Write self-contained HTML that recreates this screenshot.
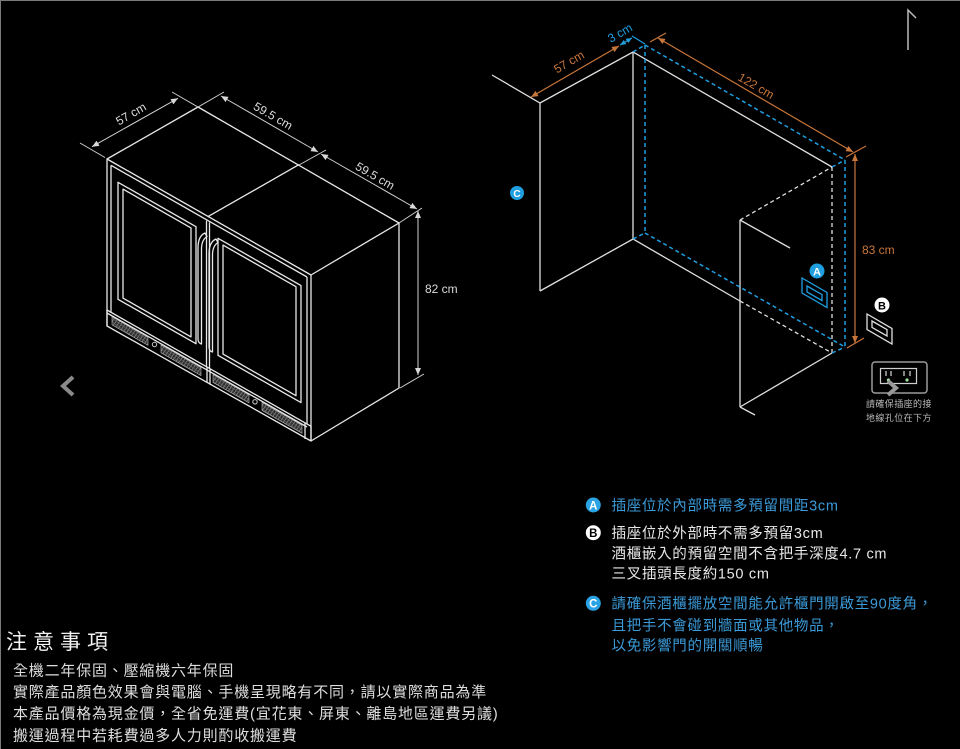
<!DOCTYPE html>
<html lang="zh-Hant-TW"><head><meta charset="utf-8">
<style>
html,body{margin:0;padding:0;background:#000;}
svg{display:block;}
text{font-family:"Liberation Sans","Noto Sans CJK TC",sans-serif;}
</style></head><body>
<svg width="960" height="749" viewBox="0 0 960 749" xmlns="http://www.w3.org/2000/svg" lang="zh-Hant-TW" xml:lang="zh-Hant-TW">
<defs>
<marker id="aw" viewBox="0 0 7 6" refX="7" refY="3" markerWidth="7" markerHeight="6" markerUnits="userSpaceOnUse" orient="auto-start-reverse"><path d="M0,0 L7,3 L0,6z" fill="#d8d8d8"/></marker>
<marker id="ao" viewBox="0 0 7 6" refX="7" refY="3" markerWidth="7" markerHeight="6" markerUnits="userSpaceOnUse" orient="auto-start-reverse"><path d="M0,0 L7,3 L0,6z" fill="#c8763a"/></marker>
<marker id="ab" viewBox="0 0 7 6" refX="7" refY="3" markerWidth="6" markerHeight="5" markerUnits="userSpaceOnUse" orient="auto-start-reverse"><path d="M0,0 L7,3 L0,6z" fill="#1f9fe0"/></marker>
<pattern id="hatch" width="3" height="3" patternUnits="userSpaceOnUse" patternTransform="rotate(35)"><rect width="3" height="3" fill="#2a2a2a"/><line x1="0" y1="0" x2="0" y2="3" stroke="#9a9a9a" stroke-width="1.3"/><line x1="0" y1="1.5" x2="3" y2="1.5" stroke="#666" stroke-width="0.6"/></pattern>
</defs>
<rect width="960" height="749" fill="#000"/>
<line x1="0.5" y1="0" x2="0.5" y2="749" stroke="#7a7a7a" stroke-width="1"/>
<line x1="0" y1="0.5" x2="960" y2="0.5" stroke="#7a7a7a" stroke-width="1"/>

<!-- top right mark -->
<polyline points="908,50 908,10 916,18" fill="none" stroke="#bbb" stroke-width="1.5"/>

<!-- left chevron -->
<polyline points="73,377 63,386 73,395" fill="none" stroke="#8a8a8a" stroke-width="4"/>

<!-- ================= FRIDGE ================= -->
<g stroke="#e8e8e8" stroke-width="1.3" fill="none" stroke-linejoin="round">
 <polygon points="107,159 198,107 399,223 311,275"/>
 <line x1="208" y1="216.6" x2="299" y2="164.6"/>
 <line x1="111" y1="165.3" x2="307" y2="277"/>
 <line x1="107" y1="159" x2="107" y2="326"/>
 <line x1="111" y1="165.3" x2="111" y2="313"/>
 <line x1="307" y1="277" x2="307" y2="424"/>
 <line x1="311" y1="275" x2="311" y2="441"/>
 <line x1="206.5" y1="220.7" x2="206.5" y2="366.7"/>
 <line x1="209.5" y1="222.4" x2="209.5" y2="368.4"/>
 <!-- doors -->
 <polygon points="118,182.3 196,226.7 196,343.7 118,299.3"/>
 <polygon points="123,189.1 191,227.9 191,336.9 123,298.1"/>
 <polygon points="218,238.3 301,285.6 301,402.6 218,355.3"/>
 <polygon points="223,245.1 296,286.7 296,395.7 223,354.1"/>
 <!-- handles -->
 <path d="M205,233 Q198,236 198,248 L198,339 Q198,343 201.5,344 L201.5,249 Q201.5,240 207,236.5 Z"/>
 <path d="M216,239 Q209,242 209,254 L209,347 Q209,351 212.5,352 L212.5,255 Q212.5,246 218,242.5 Z"/>
 <!-- plinth -->
 <polygon points="107,310 311,426.3 311,441 107,326"/>
 <line x1="107" y1="313" x2="307" y2="427"/>
 <line x1="207" y1="367" x2="207" y2="383"/>
 <line x1="210" y1="368.7" x2="210" y2="384.7"/>
 <line x1="305" y1="423" x2="305" y2="439"/>
 <!-- right face -->
 <polyline points="399,223 399,388 311,441"/>
</g>
<!-- vents -->
<g fill="url(#hatch)" stroke="#bbb" stroke-width="0.6">
 <polygon points="112,316.8 148,337.4 148,345.4 112,324.8"/>
 <polygon points="161,344.8 201,367.6 201,375.6 161,352.8"/>
 <polygon points="213,374.4 249,394.9 249,402.9 213,382.4"/>
 <polygon points="262,402.4 302,425.2 302,433.2 262,410.4"/>
</g>
<circle cx="154.5" cy="344.5" r="2.2" fill="none" stroke="#ccc" stroke-width="1"/>
<circle cx="255" cy="401.8" r="2.2" fill="none" stroke="#ccc" stroke-width="1"/>

<!-- fridge dims -->
<g stroke="#cfcfcf" stroke-width="1" fill="none">
 <line x1="80" y1="143" x2="105" y2="157.5"/>
 <polyline points="172,92 198,107 224,92"/>
 <line x1="299" y1="165" x2="326" y2="150"/>
 <line x1="399" y1="223" x2="422" y2="208"/>
 <line x1="400" y1="388" x2="424" y2="374"/>
 <line x1="92" y1="146.7" x2="178" y2="98.3" marker-start="url(#aw)" marker-end="url(#aw)"/>
 <line x1="221" y1="96" x2="318" y2="152" marker-start="url(#aw)" marker-end="url(#aw)"/>
 <line x1="321" y1="154" x2="417" y2="209" marker-start="url(#aw)" marker-end="url(#aw)"/>
 <line x1="418" y1="211" x2="418" y2="375" marker-start="url(#aw)" marker-end="url(#aw)"/>
</g>
<g fill="#dcdcdc" font-size="12">
 <text transform="translate(131,114) rotate(-30)" text-anchor="middle" y="4">57 cm</text>
 <text transform="translate(273,116) rotate(30)" text-anchor="middle" y="4">59.5 cm</text>
 <text transform="translate(375,176) rotate(30)" text-anchor="middle" y="4">59.5 cm</text>
 <text x="425" y="293">82 cm</text>
</g>

<!-- ================= RIGHT DIAGRAM ================= -->
<g stroke="#e0e0e0" stroke-width="1.3" fill="none">
 <polyline points="492,75 540,103 633,52 832,167"/>
 <line x1="540" y1="103" x2="540" y2="291"/>
 <polyline points="540,291 633,239 740,301"/>
 <line x1="633" y1="52" x2="633" y2="239"/>
 <line x1="740" y1="220" x2="790" y2="248"/>
 <line x1="740" y1="220" x2="740" y2="407"/>
 <line x1="740" y1="407" x2="832" y2="353"/>
 <line x1="740" y1="407" x2="755" y2="415"/>
</g>
<g stroke="#e0e0e0" stroke-width="1.3" fill="none" stroke-dasharray="4 3">
 <line x1="740" y1="301" x2="832" y2="353"/>
 <line x1="832" y1="167" x2="832" y2="353"/>
 <line x1="740" y1="220" x2="832" y2="167"/>
</g>
<g stroke="#1f9fe0" stroke-width="1.5" fill="none" stroke-dasharray="4 3">
 <line x1="645" y1="45" x2="645" y2="233"/>
 <line x1="633" y1="52" x2="645" y2="45"/>
 <line x1="645" y1="45" x2="845" y2="160"/>
 <line x1="845" y1="160" x2="845" y2="347"/>
 <line x1="645" y1="233" x2="845" y2="347"/>
 <line x1="633" y1="239" x2="645" y2="233"/>
 <line x1="832" y1="167" x2="845" y2="160"/>
 <line x1="832" y1="353" x2="845" y2="347"/>
</g>
<!-- orange dims -->
<g stroke="#c8763a" stroke-width="1.2" fill="none">
 <line x1="531" y1="97" x2="619" y2="46" marker-start="url(#ao)" marker-end="url(#ao)"/>
 <line x1="650" y1="42" x2="666" y2="33"/>
 <line x1="658" y1="38" x2="853" y2="152" marker-start="url(#ao)" marker-end="url(#ao)"/>
 <line x1="846" y1="157" x2="866" y2="146"/>
 <line x1="855" y1="154" x2="855" y2="343" marker-start="url(#ao)" marker-end="url(#ao)"/>
 <line x1="847" y1="348" x2="864" y2="338"/>
</g>
<g stroke="#1f9fe0" stroke-width="1.2" fill="none">
 <line x1="620" y1="45" x2="632" y2="38" marker-start="url(#ab)" marker-end="url(#ab)"/>
 <line x1="632" y1="36" x2="645" y2="44"/>
</g>
<g fill="#c8763a" font-size="12">
 <text transform="translate(569,62) rotate(-30)" text-anchor="middle" y="4">57 cm</text>
 <text transform="translate(756,86) rotate(30)" text-anchor="middle" y="4">122 cm</text>
 <text x="862" y="254">83 cm</text>
</g>
<text transform="translate(620,33) rotate(-30)" text-anchor="middle" y="4" fill="#1f9fe0" font-size="12">3 cm</text>

<!-- badges in diagram -->
<circle cx="517" cy="193" r="7" fill="#1f9fe0"/>
<text x="517" y="197" text-anchor="middle" font-size="10" font-weight="bold" fill="#fff">C</text>
<circle cx="817" cy="271" r="7.5" fill="#1f9fe0"/>
<text x="817" y="275.5" text-anchor="middle" font-size="11" font-weight="bold" fill="#fff">A</text>
<circle cx="882" cy="305" r="7.5" fill="#fff"/>
<text x="882" y="309.5" text-anchor="middle" font-size="11" font-weight="bold" fill="#000">B</text>

<!-- outlets -->
<g fill="none" stroke="#1f9fe0" stroke-width="1.3">
 <polygon points="802,278 827,292.5 827,307.5 802,293"/>
 <polygon points="807,286 822,294.6 822,300.6 807,292"/>
</g>
<g fill="none" stroke="#e0e0e0" stroke-width="1.3">
 <polygon points="867,314 892,328.5 892,344 867,329.5"/>
 <polygon points="872,321 887,329.6 887,336 872,327.4"/>
</g>

<!-- plug icon -->
<rect x="872" y="362" width="55" height="31" rx="3" fill="none" stroke="#9a9a9a" stroke-width="1.5"/>
<rect x="880.5" y="368.5" width="36" height="15" fill="none" stroke="#cfcfcf" stroke-width="1.2"/>
<g stroke="#ddd" stroke-width="1.2">
 <line x1="886" y1="371" x2="886" y2="376"/>
 <line x1="891" y1="371" x2="891" y2="376"/>
 <line x1="904" y1="371" x2="904" y2="376"/>
 <line x1="910" y1="371" x2="910" y2="376"/>
</g>
<circle cx="888.5" cy="380" r="1.6" fill="#9fe09f"/>
<circle cx="907" cy="380" r="1.6" fill="#9fe09f"/>
<polyline points="888,381 896,388 888,395" fill="none" stroke="#999" stroke-width="4"/>
<g fill="#bbbbbb" font-size="9" letter-spacing="0.4">
 <text x="866" y="407">請確保插座的接</text>
 <text x="866" y="421">地線孔位在下方</text>
</g>

<!-- ================= RIGHT TEXT BLOCK ================= -->
<circle cx="593.3" cy="505" r="7.5" fill="#2aa3e4"/>
<text x="593.3" y="509.3" text-anchor="middle" font-size="11.5" font-weight="bold" fill="#fff">A</text>
<circle cx="593.3" cy="532.7" r="7.5" fill="#fff"/>
<text x="593.3" y="537" text-anchor="middle" font-size="11.5" font-weight="bold" fill="#000">B</text>
<circle cx="593.3" cy="603.3" r="7.5" fill="#2aa3e4"/>
<text x="593.3" y="607.6" text-anchor="middle" font-size="11.5" font-weight="bold" fill="#fff">C</text>
<g font-size="14.5" letter-spacing="0.7">
 <text x="611.5" y="510.3" fill="#3b9ad8">插座位於內部時需多預留間距3cm</text>
 <text x="611.5" y="538" fill="#e8e8e8">插座位於外部時不需多預留3cm</text>
 <text x="611.5" y="558.6" fill="#e8e8e8">酒櫃嵌入的預留空間不含把手深度4.7 cm</text>
 <text x="611.5" y="578.6" fill="#e8e8e8">三叉插頭長度約150 cm</text>
 <text x="611.5" y="608.6" fill="#3b9ad8">請確保酒櫃擺放空間能允許櫃門開啟至90度角，</text>
 <text x="611.5" y="630.3" fill="#3b9ad8">且把手不會碰到牆面或其他物品，</text>
 <text x="611.5" y="650.3" fill="#3b9ad8">以免影響門的開關順暢</text>
</g>

<!-- ================= BOTTOM LEFT NOTES ================= -->
<text x="6" y="649" font-size="21" letter-spacing="6" fill="#f2f2f2">注意事項</text>
<g font-size="15" letter-spacing="0.8" fill="#dedede">
 <text x="13" y="675.3">全機二年保固、壓縮機六年保固</text>
 <text x="13" y="697">實際產品顏色效果會與電腦、手機呈現略有不同，請以實際商品為準</text>
 <text x="13" y="718.6">本產品價格為現金價，全省免運費(宜花東、屏東、離島地區運費另議)</text>
 <text x="13" y="740.3">搬運過程中若耗費過多人力則酌收搬運費</text>
</g>
</svg>
</body></html>
